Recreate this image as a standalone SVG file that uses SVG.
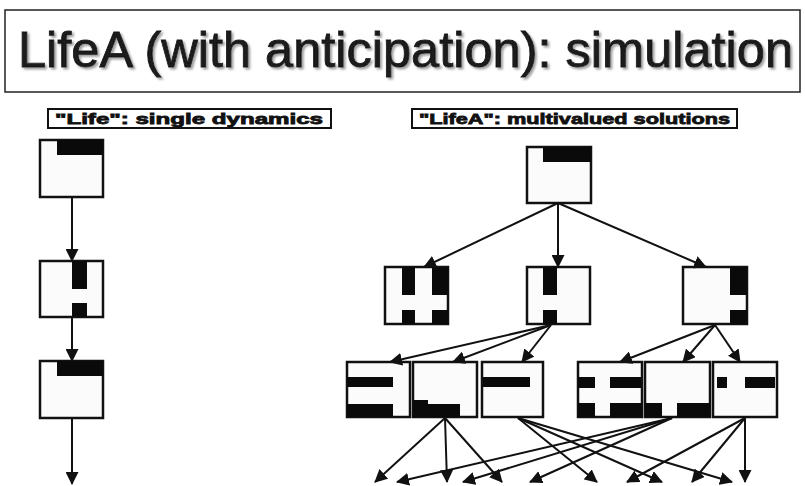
<svg xmlns="http://www.w3.org/2000/svg" width="805" height="486" viewBox="0 0 805 486">
<defs>
<marker id="ah" markerUnits="userSpaceOnUse" markerWidth="13" markerHeight="13" refX="12" refY="6.5" orient="auto">
<path d="M0,0 L13,6.5 L0,13 z" fill="#111"/>
</marker>
<filter id="shadow" x="-5%" y="-20%" width="110%" height="140%">
<feDropShadow dx="2" dy="2" stdDeviation="0.8" flood-color="#888" flood-opacity="0.8"/>
</filter>
<style>
.node{fill:#fbfbfb;stroke:#111;stroke-width:2.5}
.blk{fill:#0a0a0a}
.conn line{stroke:#111;stroke-width:2;marker-end:url(#ah)}
.lbl{fill:#fff;stroke:#111;stroke-width:2}
.lt{font-family:"Liberation Sans",Arial,sans-serif;font-weight:bold;font-size:15px;fill:#111;stroke:#111;stroke-width:0.8}
.title{font-family:"Liberation Sans",Arial,sans-serif;font-size:50px;fill:#1a1a1a;stroke:#1a1a1a;stroke-width:0.9}
</style>
</defs>
<rect width="805" height="486" fill="#fff"/>
<g id="title">
<rect x="5" y="10" width="795" height="82" fill="#fff" stroke="#222" stroke-width="1.5"/>
<text class="title" x="18" y="67" textLength="775" lengthAdjust="spacingAndGlyphs" filter="url(#shadow)">LifeA (with anticipation): simulation</text>
</g>
<g id="label-left">
<rect class="lbl" x="48" y="109" width="283" height="19"/>
<text class="lt" x="55" y="124" textLength="268" lengthAdjust="spacingAndGlyphs">"Life": single dynamics</text>
</g>
<g id="label-right">
<rect class="lbl" x="412" y="109" width="325" height="19"/>
<text class="lt" x="419" y="124" textLength="311" lengthAdjust="spacingAndGlyphs">"LifeA": multivalued solutions</text>
</g>
<g id="L1"><rect class="node" x="40" y="140" width="63" height="57"/><rect class="blk" x="57" y="140" width="46" height="15"/></g>
<g id="L2"><rect class="node" x="40" y="261" width="63" height="56"/><rect class="blk" x="72" y="261" width="15" height="28"/><rect class="blk" x="72" y="303" width="15" height="14"/></g>
<g id="L3"><rect class="node" x="40" y="361" width="63" height="57"/><rect class="blk" x="57" y="361" width="46" height="15"/></g>
<g id="R"><rect class="node" x="527" y="147" width="64" height="56"/><rect class="blk" x="543" y="147" width="48" height="15"/></g>
<g id="A"><rect class="node" x="385" y="267" width="63" height="57"/><rect class="blk" x="402" y="267" width="13" height="28"/><rect class="blk" x="402" y="310" width="13" height="14"/><rect class="blk" x="432" y="267" width="16" height="28"/><rect class="blk" x="432" y="310" width="16" height="14"/></g>
<g id="B"><rect class="node" x="527" y="267" width="63" height="57"/><rect class="blk" x="543" y="267" width="14" height="28"/><rect class="blk" x="543" y="310" width="14" height="14"/></g>
<g id="C"><rect class="node" x="683" y="267" width="64" height="57"/><rect class="blk" x="730" y="267" width="17" height="28"/><rect class="blk" x="730" y="310" width="17" height="14"/></g>
<g id="D"><rect class="node" x="347" y="362" width="63" height="55"/><rect class="blk" x="347" y="377" width="46" height="10"/><rect class="blk" x="347" y="404" width="46" height="13"/></g>
<g id="E"><rect class="node" x="413" y="362" width="64" height="55"/><rect class="blk" x="413" y="404" width="47" height="13"/><rect class="blk" x="413" y="400" width="15" height="6"/></g>
<g id="F"><rect class="node" x="482" y="362" width="61" height="55"/><rect class="blk" x="483" y="377" width="47" height="10"/></g>
<g id="G"><rect class="node" x="578" y="362" width="64" height="55"/><rect class="blk" x="578" y="377" width="17" height="11"/><rect class="blk" x="610" y="377" width="32" height="11"/><rect class="blk" x="578" y="403" width="17" height="14"/><rect class="blk" x="610" y="403" width="32" height="14"/></g>
<g id="H"><rect class="node" x="645" y="362" width="65" height="55"/><rect class="blk" x="645" y="403" width="17" height="14"/><rect class="blk" x="677" y="403" width="33" height="14"/></g>
<g id="I"><rect class="node" x="713" y="362" width="64" height="55"/><rect class="blk" x="717" y="377" width="10" height="11"/><rect class="blk" x="745" y="377" width="30" height="11"/></g>
<g id="connectors" class="conn">
<line x1="72" y1="197" x2="72" y2="261"/>
<line x1="72" y1="317" x2="72" y2="361"/>
<line x1="72" y1="418" x2="72" y2="484"/>
<line x1="558" y1="203" x2="424" y2="267"/>
<line x1="558" y1="203" x2="558" y2="267"/>
<line x1="558" y1="203" x2="706" y2="267"/>
<line x1="551" y1="325" x2="390" y2="362"/>
<line x1="551" y1="325" x2="453" y2="362"/>
<line x1="551" y1="325" x2="522" y2="362"/>
<line x1="715" y1="325" x2="620" y2="362"/>
<line x1="715" y1="325" x2="683" y2="362"/>
<line x1="715" y1="325" x2="740" y2="362"/>
<line x1="445" y1="418" x2="375" y2="482"/>
<line x1="445" y1="418" x2="447" y2="482"/>
<line x1="445" y1="418" x2="502" y2="482"/>
<line x1="518" y1="418" x2="597" y2="482"/>
<line x1="518" y1="418" x2="662" y2="482"/>
<line x1="518" y1="418" x2="732" y2="482"/>
<line x1="672" y1="418" x2="397" y2="482"/>
<line x1="672" y1="418" x2="463" y2="482"/>
<line x1="672" y1="418" x2="530" y2="482"/>
<line x1="745" y1="418" x2="627" y2="482"/>
<line x1="745" y1="418" x2="692" y2="482"/>
<line x1="745" y1="418" x2="745" y2="482"/>
</g>
</svg>
